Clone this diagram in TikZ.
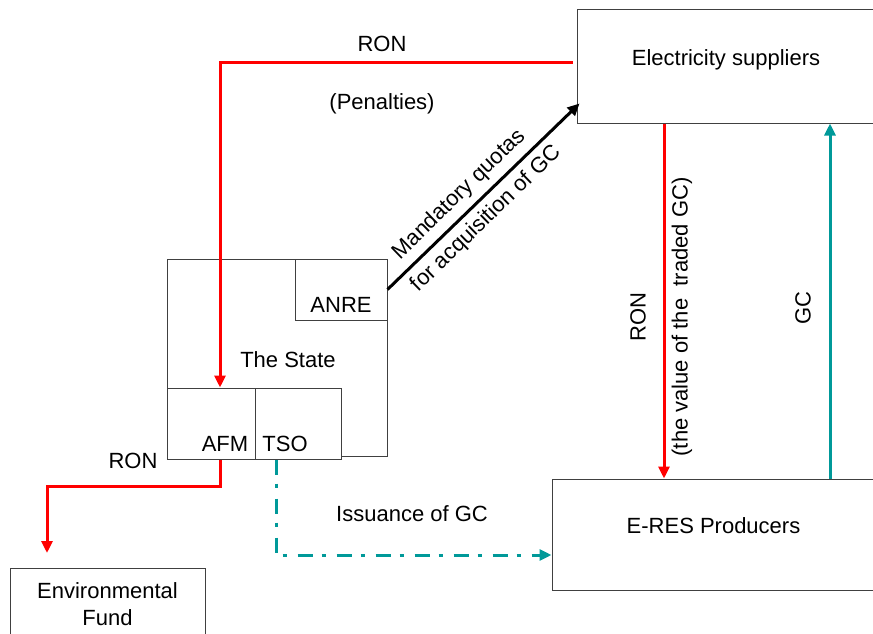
\documentclass[tikz,border=0pt]{standalone}
\usepackage{fontspec}
\setmainfont{Liberation Sans}
\usetikzlibrary{arrows.meta,positioning}
\definecolor{gcteal}{RGB}{0,153,153}

\begin{document}
\begin{tikzpicture}[x=1pt, y=-1pt,
    font=\fontsize{22}{27}\selectfont,
    box/.style={draw=black!75, line width=1pt, rectangle, inner sep=0pt},
    ronline/.style={draw=red, line width=3pt},
    gcline/.style={draw=gcteal, line width=3pt},
    tip/.style={-{Triangle[length=12pt, width=11pt]}}]
  \useasboundingbox (0,0) rectangle (873,634);

  % boxes
  \node[box, minimum width=298, minimum height=113, text depth=18pt] (sup) at (726,66.5) {Electricity suppliers};
  \node[box, minimum width=323, minimum height=111, text depth=18pt] (prod) at (713.5,534.5) {E-RES Producers};
  \node[box, minimum width=195, minimum height=72, align=center, anchor=north] (fund) at (107.5,568) {Environmental\\Fund};

  \node[box, minimum width=220, minimum height=197] (state) at (277,357.5) {};
  \node (statetxt) at (288,360) {The State};
  \node[box, minimum width=92, minimum height=61] (anre) at (341,289.5) {};
  \node[anchor=south] (anretxt) at ([yshift=4]anre.south) {ANRE};
  \node[box, fill=white, minimum width=88, minimum height=71] (afm) at (211,423.5) {};
  \node[box, fill=white, minimum width=86, minimum height=71] (tso) at (298,423.5) {};
  \node[anchor=south] (afmtxt) at ([xshift=14,yshift=4]afm.south) {AFM};
  \node[anchor=south] (tsotxt) at ([xshift=-13,yshift=4]tso.south) {TSO};

  % money flows
  \draw[ronline, tip] ([shift={(-4,-3.5)}]sup.west) -| ([xshift=9]afm.north);
  \node (ron1) at (382,44) {RON};
  \node (pen) at (382,104) {(Penalties)};

  \coordinate (fundin) at (47,553);
  \draw[ronline, tip] ([xshift=9]afm.south) -- ++(0,27) -| (fundin);
  \node (ron2) at (133,461) {RON};

  \draw[ronline, tip] ([xshift=-62]sup.south) -- ([xshift=-62]sup.south |- prod.north);
  \node[rotate=90] (ron3) at (638,317) {RON};
  \node[rotate=90] (val) at (682,317) {(the value of the \ traded GC)};

  % certificates
  \draw[gcline, tip] ([xshift=104]sup.south |- prod.north) -- ([xshift=104]sup.south);
  \node[rotate=90] (gc) at (803,308) {GC};

  \draw[gcline, tip, dash pattern=on 15pt off 9pt on 4pt off 11pt]
    ([xshift=-22]tso.south) |- ([yshift=-20.5]prod.west);
  \node (iss) at (412,514) {Issuance of GC};

  % quotas
  \draw[line width=3pt, tip] (anre.east) -- ([shift={(3,-20)}]sup.south west)
    node[pos=0.44, sloped, above=3pt] (quota1) {Mandatory quotas}
    node[pos=0.45, sloped, below=3pt] (quota2) {for acquisition of GC};
\end{tikzpicture}
\end{document}
